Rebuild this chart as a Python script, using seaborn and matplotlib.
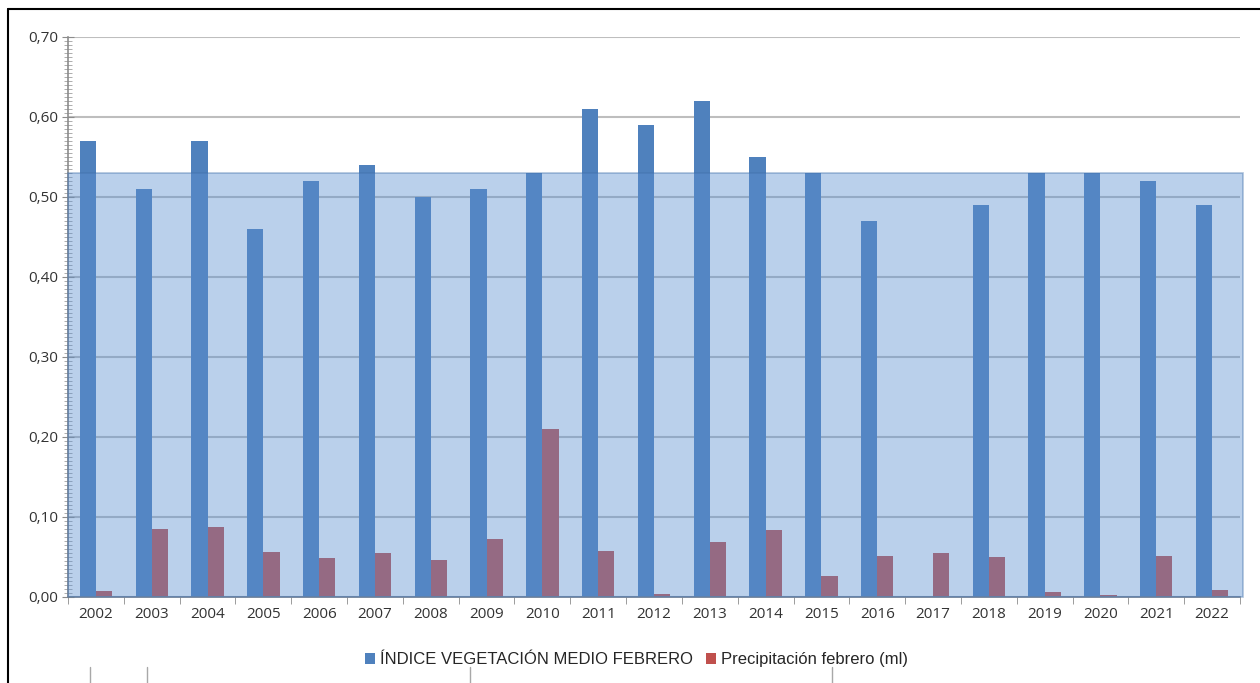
import pandas as pd
import matplotlib
matplotlib.use('Agg')
import matplotlib.pyplot as plt
from matplotlib.ticker import MultipleLocator, FuncFormatter, FixedLocator
from matplotlib.patches import Rectangle
from matplotlib.lines import Line2D
import numpy as np
import seaborn as sns

## Data
years = ['2002', '2003', '2004', '2005', '2006', '2007', '2008', '2009', '2010', '2011', '2012',
         '2013', '2014', '2015', '2016', '2017', '2018', '2019', '2020', '2021', '2022']
ndvi = [0.57, 0.51, 0.57, 0.46, 0.52, 0.54, 0.50, 0.51, 0.53, 0.61, 0.59,
        0.62, 0.55, 0.53, 0.47, np.nan, 0.49, 0.53, 0.53, 0.52, 0.49]
rain = [0.0075, 0.085, 0.0875, 0.056, 0.049, 0.055, 0.046, 0.072, 0.21, 0.057, 0.004,
        0.069, 0.084, 0.026, 0.051, 0.055, 0.050, 0.0067, 0.002, 0.051, 0.009]
series_names = ['ÍNDICE VEGETACIÓN MEDIO FEBRERO', 'Precipitación febrero (ml)']
band_top = 0.53

df = pd.DataFrame({'year': years * 2,
                   'value': ndvi + rain,
                   'serie': [series_names[0]] * len(years) + [series_names[1]] * len(years)})

sns.set_style('white')
plt.rcParams['font.family'] = ['Open Sans', 'DejaVu Sans']

fig = plt.figure(figsize=(12.6, 6.83), dpi=100)
ax = fig.add_axes([68 / 1260, 86 / 683, 1172 / 1260, 560 / 683])

sns.barplot(data=df, x='year', y='value', hue='serie', order=years, hue_order=series_names,
            palette=['#4F81BD', '#C0504D'], width=0.58, gap=0, saturation=1,
            errorbar=None, ax=ax, zorder=2, linewidth=0)

ax.set_ylim(0, 0.70)
ax.set_xlim(-0.5, len(years) - 0.5)
ax.yaxis.set_major_locator(MultipleLocator(0.1))
ax.yaxis.set_minor_locator(MultipleLocator(0.005))
ax.yaxis.set_major_formatter(FuncFormatter(lambda v, p: '{:.2f}'.format(v).replace('.', ',')))
ax.grid(axis='y', color='#BEBEBE', linewidth=1.5, zorder=0)
ax.set_axisbelow(True)

# translucent band over the bars
ax.add_patch(Rectangle((-0.5, 0), len(years) + 0.05, band_top, facecolor='#5B8FD0', alpha=0.42,
                       edgecolor='#3E6DA8', linewidth=1.2, zorder=3, clip_on=False))

ax.set_xlabel('')
ax.set_ylabel('')
for s in ['top', 'right']:
    ax.spines[s].set_visible(False)
for s in ['left', 'bottom']:
    ax.spines[s].set_color('#8C8C8C')
    ax.spines[s].set_linewidth(1.2)

ax.tick_params(axis='y', which='major', direction='inout', length=8, color='#8C8C8C',
               labelsize=11, labelcolor='#333333', left=True, pad=3)
ax.tick_params(axis='y', which='minor', direction='inout', length=6, color='#A0A0A0', left=True)
ax.xaxis.set_minor_locator(FixedLocator(np.arange(-0.5, len(years), 1)))
ax.tick_params(axis='x', which='major', length=0, labelsize=11, labelcolor='#333333', pad=7)
ax.tick_params(axis='x', which='minor', direction='out', length=5, color='#8C8C8C', bottom=True)

ax.legend(loc='upper center', bbox_to_anchor=(0.485, -0.072), ncol=2, frameon=False,
          handlelength=0.6, handleheight=0.6, handletextpad=0.3, columnspacing=0.8,
          prop={'family': 'Liberation Sans', 'size': 12})

# frame pieces around the screenshot
fig.add_artist(Line2D([8 / 1260, 1], [1 - 9 / 683, 1 - 9 / 683], color='black', linewidth=1.5))
fig.add_artist(Line2D([8 / 1260, 8 / 1260], [0, 1 - 9 / 683], color='black', linewidth=1.5))
for xs in [90, 147, 470, 832]:
    fig.add_artist(Line2D([xs / 1260, xs / 1260], [0, 16 / 683], color='#A8A8A8', linewidth=1))

plt.savefig('out.png', dpi=100)
